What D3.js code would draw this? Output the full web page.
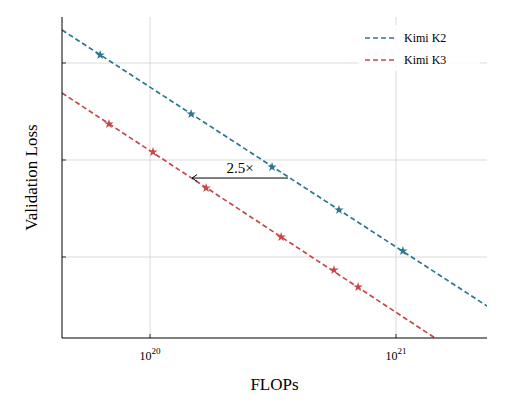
<!DOCTYPE html>
<html><head><meta charset="utf-8">
<script src="https://cdn.jsdelivr.net/npm/d3@7"></script>
<style>body{margin:0;background:#fff}svg text{font-family:"Liberation Serif",serif}</style>
</head><body><div id="chart"></div>
<script>
// data (log10 FLOPs, loss in arbitrary units)
const k2Flops = [19.797, 20.167, 20.496, 20.768, 21.028];
const k2Loss = [3.082, 2.474, 1.928, 1.485, 1.062];
const k3Flops = [19.833, 20.012, 20.228, 20.533, 20.748, 20.846];
const k3Loss = [2.371, 2.082, 1.711, 1.206, 0.866, 0.691];
const k2Fit = [[19.642, 3.340], [21.370, 0.495]];
const k3Fit = [[19.642, 2.691], [21.159, 0.165]];
const arrow = {from: 20.561, to: 20.171, y: 1.814, label: "2.5×"};
const yTicks = [1, 2, 3];
const xTicks = [20, 21];
const series = [
  {name: "Kimi K2", color: "#2b7690", x: k2Flops, y: k2Loss, fit: k2Fit},
  {name: "Kimi K3", color: "#c74848", x: k3Flops, y: k3Loss, fit: k3Fit}
];

const W = 506, H = 413, m = {l: 62, r: 19, t: 17, b: 75};
const svg = d3.select("#chart").append("svg").attr("width", W).attr("height", H)
  .attr("font-family", "Liberation Serif, serif");
const x = d3.scaleLinear().domain([19.642, 21.370]).range([m.l, W - m.r]);
const y = d3.scaleLinear().domain([0.165, 3.474]).range([H - m.b, m.t]);

svg.append("defs").append("clipPath").attr("id", "clip")
  .append("rect").attr("x", m.l).attr("y", m.t).attr("width", W - m.r - m.l).attr("height", H - m.b - m.t);

const grid = svg.append("g").attr("stroke", "#d0d0d0").attr("stroke-width", 0.8);
grid.selectAll(".gx").data(xTicks).enter().append("line")
  .attr("x1", d => x(d)).attr("x2", d => x(d)).attr("y1", m.t).attr("y2", H - m.b);
grid.selectAll(".gy").data(yTicks).enter().append("line")
  .attr("x1", m.l).attr("x2", W - m.r).attr("y1", d => y(d)).attr("y2", d => y(d));

// ticks
const tk = svg.append("g").attr("stroke", "#000").attr("stroke-width", 0.8);
tk.selectAll(".ty").data(yTicks).enter().append("line")
  .attr("x1", m.l).attr("x2", m.l + 4).attr("y1", d => y(d)).attr("y2", d => y(d));
tk.selectAll(".tx").data(xTicks).enter().append("line")
  .attr("x1", d => x(d)).attr("x2", d => x(d)).attr("y1", H - m.b).attr("y2", H - m.b - 4);

svg.append("g").selectAll("text").data(xTicks).enter().append("text")
  .attr("x", d => x(d)).attr("y", H - m.b + 22).attr("text-anchor", "middle").attr("font-size", 12)
  .html(d => `10<tspan dy="-6" font-size="9">${d}</tspan>`);

const plot = svg.append("g").attr("clip-path", "url(#clip)");
const line = d3.line().x(d => x(d[0])).y(d => y(d[1]));
const star = d3.symbol().type(d3.symbolStar).size(28);
series.forEach(s => {
  plot.append("path").attr("d", line(s.fit)).attr("fill", "none")
    .attr("stroke", s.color).attr("stroke-width", 1.7).attr("stroke-dasharray", "5,3");
  plot.selectAll(null).data(s.x).enter().append("path").attr("d", star)
    .attr("transform", (d, i) => `translate(${x(d)},${y(s.y[i])})`).attr("fill", s.color);
});

// axes frame
svg.append("line").attr("x1", m.l).attr("x2", m.l).attr("y1", m.t).attr("y2", H - m.b).attr("stroke", "#000");
svg.append("line").attr("x1", m.l).attr("x2", W - m.r).attr("y1", H - m.b).attr("y2", H - m.b).attr("stroke", "#000");

// arrow
const ax0 = x(arrow.from), ax1 = x(arrow.to), ay = y(arrow.y);
svg.append("line").attr("x1", ax0).attr("x2", ax1).attr("y1", ay).attr("y2", ay)
  .attr("stroke", "#000").attr("stroke-width", 1);
svg.append("path").attr("d", `M${ax1 + 5},${ay - 3.5} L${ax1},${ay} L${ax1 + 5},${ay + 3.5}`)
  .attr("fill", "none").attr("stroke", "#000").attr("stroke-width", 1);
svg.append("text").attr("x", (ax0 + ax1) / 2).attr("y", ay - 5)
  .attr("text-anchor", "middle").attr("font-size", 15).text(arrow.label);

// legend
const lg = svg.append("g");
lg.append("rect").attr("x", 358).attr("y", 25).attr("width", 122).attr("height", 46).attr("fill", "#fff").attr("opacity", 0.85);
series.forEach((s, i) => {
  const yy = 38 + i * 22;
  lg.append("line").attr("x1", 365).attr("x2", 396).attr("y1", yy).attr("y2", yy)
    .attr("stroke", s.color).attr("stroke-width", 1.7).attr("stroke-dasharray", "5,3");
  lg.append("text").attr("x", 404).attr("y", yy + 4).attr("font-size", 12).text(s.name);
});

svg.append("text").attr("x", (m.l + W - m.r) / 2).attr("y", 390).attr("text-anchor", "middle")
  .attr("font-size", 17).text("FLOPs");
svg.append("text").attr("transform", `translate(37,${(m.t + H - m.b) / 2}) rotate(-90)`)
  .attr("text-anchor", "middle").attr("font-size", 17).text("Validation Loss");
</script></body></html>
